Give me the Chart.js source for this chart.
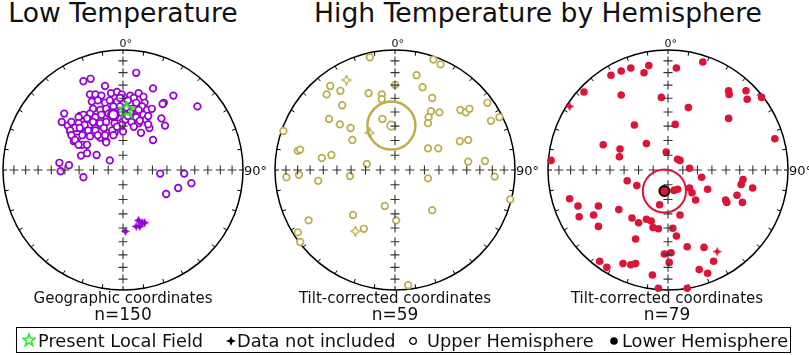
<!DOCTYPE html>
<html lang="en">
<head>
<meta charset="UTF-8">
<title>Paleomagnetic directions</title>
<script src="https://cdn.jsdelivr.net/npm/chart.js"></script>
<style>
  body { margin: 0; background: #fff; font-family: "DejaVu Sans", Verdana, sans-serif; color: #111; }
  #wrap { position: relative; width: 809px; height: 355px; overflow: hidden; }
  canvas { position: absolute; top: 35px; }
  .t { position: absolute; white-space: nowrap; line-height: 1; transform: translateX(-50%); }
  .title { top: 0; font-size: 26.6px; }
  .sub { top: 291px; font-size: 15px; }
  .n { top: 305.6px; font-size: 17px; }
  #legend { position: absolute; left: 16px; top: 327px; width: 775px; height: 26px; border: 1px solid #000; box-sizing: border-box; }
  .li { position: absolute; top: 4px; font-size: 17.8px; line-height: 1; white-space: nowrap; }
  .lm { position: absolute; }
</style>
</head>
<body>
<div id="wrap">
  <div class="t title" style="left:123px">Low Temperature</div>
  <div class="t title" style="left:538px">High Temperature by Hemisphere</div>

  <canvas id="low" width="290" height="270" style="left:-12px"></canvas>
  <canvas id="high" width="290" height="270" style="left:260px"></canvas>
  <canvas id="hemi" width="290" height="270" style="left:533px"></canvas>

  <div class="t sub" style="left:123px">Geographic coordinates</div>
  <div class="t n" style="left:123px">n=150</div>
  <div class="t sub" style="left:395px">Tilt-corrected coordinates</div>
  <div class="t n" style="left:395px">n=59</div>
  <div class="t sub" style="left:667px">Tilt-corrected coordinates</div>
  <div class="t n" style="left:667px">n=79</div>

  <div id="legend">
    <svg class="lm" style="left:5px;top:5px" width="14" height="14" viewBox="0 0 14 14">
      <polygon points="7,1 8.5,5.2 13,5.3 9.4,8 10.7,12.5 7,9.8 3.3,12.5 4.6,8 1,5.3 5.5,5.2" fill="none" stroke="#2ee82e" stroke-width="1.6"/>
    </svg>
    <span class="li" style="left:21px">Present Local Field</span>
    <svg class="lm" style="left:209px;top:8px" width="10" height="10" viewBox="0 0 10 10">
      <polygon points="5,0 6.4,3.6 10,5 6.4,6.4 5,10 3.6,6.4 0,5 3.6,3.6" fill="#000"/>
    </svg>
    <span class="li" style="left:220px">Data not included</span>
    <svg class="lm" style="left:391px;top:8px" width="10" height="10" viewBox="0 0 10 10">
      <circle cx="5" cy="5" r="3.3" fill="none" stroke="#000" stroke-width="1.3"/>
    </svg>
    <span class="li" style="left:410px">Upper Hemisphere</span>
    <svg class="lm" style="left:592px;top:8px" width="10" height="10" viewBox="0 0 10 10">
      <circle cx="5" cy="5" r="3.8" fill="#000"/>
    </svg>
    <span class="li" style="left:605px">Lower Hemisphere</span>
  </div>
</div>

<script>
  // equal-area projection coords (unit circle, x = east, y = north)
  const netDips = [10, 20, 30, 40, 50, 60, 70, 80];
  const rimAzimuths = [0,10,20,30,40,50,60,70,80,90,100,110,120,130,140,150,160,170,
                       180,190,200,210,220,230,240,250,260,270,280,290,300,310,320,330,340,350];

  // Low temperature, geographic
  const lowUpper = [
    [0.11,0.81],[-0.33,0.74],[-0.27,0.76],[-0.15,0.70],[0.25,0.68],[0.42,0.62],[0.62,0.53],
    [0.34,0.56],[0.33,0.55],[0.32,0.43],[0.35,0.37],[0.22,0.35],[0.15,0.31],[0.25,0.25],
    [-0.49,0.47],[-0.51,0.40],[-0.46,0.37],[-0.44,0.32],[-0.38,0.27],[-0.34,0.21],[-0.30,0.21],
    [-0.14,0.24],[-0.22,0.125],[-0.35,0.12],[-0.11,0.08],[-0.53,0.06],[-0.45,0.04],[-0.52,-0.01],
    [-0.33,-0.06],[0.31,-0.03],[0.51,-0.03],[0.57,-0.11],[0.46,-0.15],[0.36,-0.20],
    [-0.36,0.45],[-0.31,0.45],[-0.41,0.24],[-0.30,0.14],[-0.19,0.32],[-0.14,0.31],[-0.07,0.31],
    [-0.19,0.27],[-0.14,0.23],[-0.23,0.35],[-0.28,0.375],[-0.39,0.35],[-0.33,0.36],[-0.25,0.42],
    [-0.19,0.43],
    [-0.275,0.63],[-0.23,0.63],[-0.18,0.62],[-0.10,0.64],[-0.05,0.65],[-0.01,0.63],[0.06,0.62],
    [0.13,0.64],[0.17,0.61],[0.09,0.60],[-0.26,0.57],[-0.21,0.58],[-0.15,0.56],[-0.11,0.58],
    [-0.05,0.57],[0.04,0.58],[0.11,0.56],[0.18,0.56],[0.16,0.53],[-0.025,0.60],[-0.25,0.51],
    [-0.19,0.50],[-0.14,0.51],[-0.08,0.53],[-0.025,0.53],[0.08,0.51],[0.13,0.50],[0.20,0.50],
    [0.24,0.51],[-0.33,0.46],[-0.37,0.44],[-0.275,0.47],[-0.30,0.43],[-0.23,0.44],[-0.18,0.46],
    [-0.12,0.47],[-0.04,0.44],[0.07,0.47],[0.11,0.44],[0.17,0.46],[0.02,0.42],[-0.43,0.40],
    [-0.37,0.39],[-0.32,0.375],[-0.25,0.40],[-0.19,0.39],[-0.14,0.40],[-0.07,0.39],[-0.01,0.375],
    [0.07,0.40],[0.13,0.39],[-0.40,0.35],[-0.44,0.33],[-0.36,0.35],[-0.29,0.33],[-0.23,0.33],
    [-0.16,0.35],[-0.09,0.33],[-0.05,0.36],[0.00,0.32],[-0.43,0.29],[-0.34,0.29],[-0.275,0.28],
    [-0.21,0.29],[-0.15,0.29],[-0.08,0.29],[-0.40,0.25],[-0.37,0.21],
    [0.03,0.52],[0.06,0.48],[-0.02,0.48],[0.04,0.45],[0.19,0.42],[0.21,0.45],[0.14,0.41],
    [0.09,0.36],[0.21,0.38]
  ];
  const lowExcluded = [[0.13,-0.42],[0.16,-0.44],[0.18,-0.44],[0.14,-0.47],[0.11,-0.47],[0.02,-0.51]];
  const lowMean = [-0.08, 0.46];
  const lowA95 = 0.035;
  const localField = [0.03, 0.50];

  // High temperature, tilt-corrected (upper hemisphere)
  const highUpper = [
    [-0.21,0.94],[0.32,0.92],[0.38,0.88],[0.18,0.79],[-0.54,0.70],[-0.57,0.63],[-0.455,0.66],
    [0.00,0.71],[0.23,0.69],[-0.22,0.64],[-0.11,0.63],[-0.11,0.59],[0.31,0.60],[-0.44,0.54],
    [0.77,0.56],[0.545,0.50],[0.59,0.48],[0.62,0.51],[0.30,0.49],[0.37,0.48],[-0.55,0.425],
    [-0.93,0.325],[-0.46,0.38],[-0.37,0.35],[-0.355,0.25],[-0.105,0.425],[0.28,0.44],[0.275,0.39],
    [0.80,0.41],[0.87,0.44],[0.54,0.24],[0.61,0.25],[0.275,0.18],[0.36,0.18],[0.61,0.07],
    [0.75,0.075],[0.83,-0.055],[0.96,-0.245],[-0.81,0.16],[-0.79,0.17],[-0.61,0.10],[-0.53,0.125],
    [-0.235,0.05],[-0.905,-0.06],[-0.80,-0.04],[-0.64,-0.09],[-0.375,-0.05],[0.275,-0.07],
    [-0.085,-0.30],[0.31,-0.335],[-0.35,-0.375],[-0.72,-0.42],[0.01,-0.42],[-0.26,-0.49],
    [-0.81,-0.52],[-0.79,-0.60],[0.11,-0.96]
  ];
  const highExcluded = [[-0.405,0.75],[-0.21,0.31],[-0.33,-0.51]];
  const highMean = [-0.03, 0.37];
  const highA95 = 0.20;

  // High temperature, tilt-corrected (lower hemisphere)
  const hemiLower = [
    [0.29,0.90],[0.07,0.85],[-0.16,0.87],[-0.20,0.81],[-0.31,0.85],[-0.39,0.825],[-0.475,0.79],
    [-0.70,0.65],[-0.39,0.625],[-0.055,0.605],[0.17,0.52],[0.505,0.66],[0.51,0.63],[0.65,0.66],
    [0.66,0.59],[0.78,0.605],[0.505,0.43],[-0.28,0.375],[0.06,0.38],[-0.54,0.21],[-0.18,0.22],
    [-0.40,0.175],[-0.405,0.11],[-0.975,0.08],[-0.015,0.15],[0.89,0.26],[0.08,0.09],[0.10,0.08],
    [0.18,0.015],[0.28,-0.06],[-0.34,-0.09],[-0.26,-0.13],[0.625,-0.08],[0.61,-0.12],[0.705,-0.15],
    [0.33,-0.16],[0.18,-0.15],[0.20,-0.19],[0.05,-0.17],[0.08,-0.16],[0.23,-0.25],[-0.07,-0.29],
    [0.48,-0.25],[0.49,-0.27],[0.575,-0.21],[0.62,-0.27],[-0.82,-0.24],[-0.75,-0.30],[-0.58,-0.30],
    [-0.41,-0.33],[-0.74,-0.39],[-0.62,-0.375],[0.10,-0.375],[-0.30,-0.40],[-0.18,-0.41],
    [-0.14,-0.425],[-0.245,-0.44],[-0.58,-0.47],[-0.125,-0.48],[-0.08,-0.49],[0.04,-0.485],
    [0.07,-0.55],[-0.27,-0.575],[0.16,-0.64],[0.30,-0.645],[-0.03,-0.70],[0.025,-0.69],[0.38,-0.76],
    [0.01,-0.77],[-0.57,-0.76],[-0.51,-0.81],[-0.375,-0.78],[-0.31,-0.79],[-0.27,-0.78],[0.26,-0.83],
    [0.33,-0.86],[-0.13,-0.875],[-0.08,-0.985],[0.16,-0.985]
  ];
  const hemiExcluded = [[-0.82,0.53],[0.41,-0.68]];
  const hemiMean = [-0.03, -0.175];
  const hemiA95 = 0.18;

  const PURPLE = '#9400d3', OLIVE = '#bcae4a', RED = '#dc1438';

  // cross marks along N-S and E-W every 10 degrees of dip
  const crossPts = [{x: 0, y: 0}];
  netDips.forEach(d => {
    const r = Math.SQRT2 * Math.sin((90 - d) / 2 * Math.PI / 180);
    crossPts.push({x: r, y: 0}, {x: -r, y: 0}, {x: 0, y: r}, {x: 0, y: -r});
  });

  const xy = arr => arr.map(p => ({x: p[0], y: p[1]}));

  function star4(fill, stroke) {
    const s = 11, c = document.createElement('canvas');
    c.width = c.height = s;
    const g = c.getContext('2d'), h = s / 2, k = 1.5, e = 0.8;
    g.beginPath();
    g.moveTo(h, e); g.lineTo(h + k, h - k); g.lineTo(s - e, h); g.lineTo(h + k, h + k);
    g.lineTo(h, s - e); g.lineTo(h - k, h + k); g.lineTo(e, h); g.lineTo(h - k, h - k);
    g.closePath();
    if (fill) { g.fillStyle = fill; g.fill(); }
    if (stroke) { g.strokeStyle = stroke; g.lineWidth = 1.3; g.stroke(); }
    return c;
  }

  function star5(color) {
    const s = 18, c = document.createElement('canvas');
    c.width = c.height = s;
    const g = c.getContext('2d');
    g.beginPath();
    for (let i = 0; i < 10; i++) {
      const r = i % 2 ? 3.4 : 8;
      const a = -Math.PI / 2 + i * Math.PI / 5;
      g.lineTo(s / 2 + r * Math.cos(a), s / 2 + r * Math.sin(a));
    }
    g.closePath();
    g.strokeStyle = color; g.lineWidth = 2.2; g.stroke();
    return c;
  }

  const netPlugin = {
    id: 'net',
    beforeDatasetsDraw(chart) {
      const {ctx, scales: {x, y}} = chart;
      const cx = x.getPixelForValue(0), cy = y.getPixelForValue(0);
      const R = x.getPixelForValue(1) - cx;
      ctx.save();
      ctx.strokeStyle = '#000';
      ctx.lineWidth = 1.5;
      ctx.beginPath(); ctx.arc(cx, cy, R, 0, 2 * Math.PI); ctx.stroke();
      ctx.lineWidth = 1;
      rimAzimuths.forEach(az => {
        const a = az * Math.PI / 180, s = Math.sin(a), c = Math.cos(a);
        ctx.beginPath();
        ctx.moveTo(cx + s * R, cy - c * R);
        ctx.lineTo(cx + s * (R - 4), cy - c * (R - 4));
        ctx.stroke();
      });
      ctx.restore();
    },
    afterDatasetsDraw(chart, args, opts) {
      const {ctx, scales: {x, y}} = chart;
      const cx = x.getPixelForValue(0), cy = y.getPixelForValue(0);
      const R = x.getPixelForValue(1) - cx;
      ctx.save();
      // alpha95 circle
      ctx.strokeStyle = opts.color;
      ctx.lineWidth = opts.ringWidth;
      ctx.beginPath();
      ctx.arc(x.getPixelForValue(opts.mean[0]), y.getPixelForValue(opts.mean[1]),
              x.getPixelForValue(opts.a95) - cx, 0, 2 * Math.PI);
      ctx.stroke();
      // direction labels
      ctx.fillStyle = '#111';
      ctx.font = '11px "DejaVu Sans", sans-serif';
      ctx.textBaseline = 'alphabetic';
      const w0 = ctx.measureText('0').width;
      ctx.fillText('0\u00B0', cx - w0 / 2, cy - R - 3);
      ctx.font = '13px "DejaVu Sans", sans-serif';
      ctx.fillText('90\u00B0', cx + R + 1, cy + 5);
      ctx.restore();
    }
  };

  function makeNet(id, sets, ring) {
    new Chart(document.getElementById(id), {
      type: 'scatter',
      data: {
        datasets: [
          { data: crossPts, pointStyle: 'cross', pointRadius: 4.5, borderColor: '#333', borderWidth: 1.1 },
          ...sets
        ]
      },
      options: {
        responsive: false,
        animation: false,
        events: [],
        layout: { autoPadding: false, padding: { left: 0, top: 0, bottom: 0, right: 20 } },
        scales: {
          x: { type: 'linear', min: -1.125, max: 1.125, display: false },
          y: { type: 'linear', min: -1.125, max: 1.125, display: false }
        },
        plugins: { legend: { display: false }, tooltip: { enabled: false }, net: ring }
      },
      plugins: [netPlugin]
    });
  }

  makeNet('low', [
    { data: [{x: localField[0], y: localField[1]}], pointStyle: star5('#2ee82e'), pointRadius: 9 },
    { data: [{x: lowMean[0], y: lowMean[1]}], pointRadius: 5, borderWidth: 2.5, borderColor: PURPLE, backgroundColor: '#fff' },
    { data: xy(lowExcluded), pointStyle: star4(PURPLE, null), pointRadius: 5 },
    { data: xy(lowUpper), pointRadius: 3.3, borderWidth: 1.7, borderColor: PURPLE, backgroundColor: '#fff' }
  ], { mean: lowMean, a95: lowA95, color: PURPLE, ringWidth: 1.5 });

  makeNet('high', [
    { data: [{x: highMean[0], y: highMean[1]}], pointRadius: 4.2, borderWidth: 1.7, borderColor: OLIVE, backgroundColor: 'rgba(255,255,255,0)' },
    { data: xy(highExcluded), pointStyle: star4(null, OLIVE), pointRadius: 5 },
    { data: xy(highUpper), pointRadius: 3.3, borderWidth: 1.7, borderColor: OLIVE, backgroundColor: '#fff' }
  ], { mean: highMean, a95: highA95, color: OLIVE, ringWidth: 2.5 });

  makeNet('hemi', [
    { data: [{x: hemiMean[0], y: hemiMean[1]}], pointRadius: 5, borderWidth: 2, borderColor: '#000', backgroundColor: RED },
    { data: xy(hemiExcluded), pointStyle: star4(RED, null), pointRadius: 5 },
    { data: xy(hemiLower), pointRadius: 3.8, borderWidth: 0, backgroundColor: RED }
  ], { mean: hemiMean, a95: hemiA95, color: RED, ringWidth: 2 });
</script>
</body>
</html>
